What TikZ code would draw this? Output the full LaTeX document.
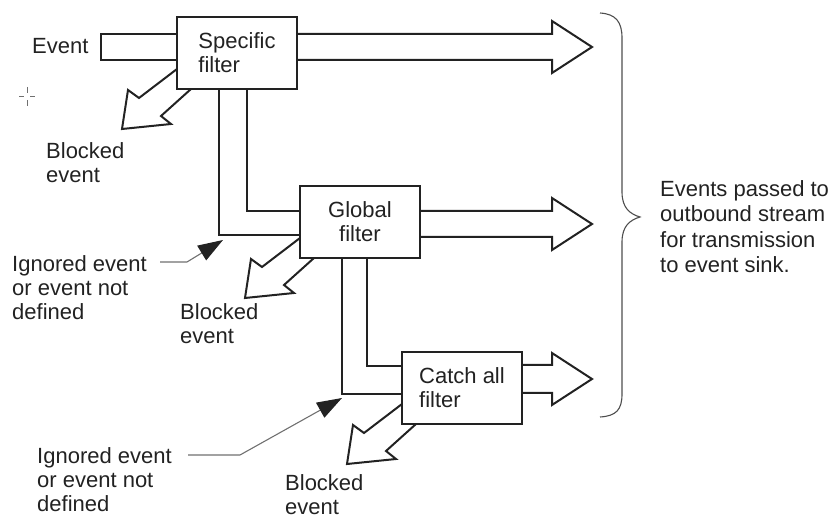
\documentclass[tikz,border=0pt]{standalone}
\usepackage{fontspec}
\setmainfont{Liberation Sans}
\usepackage{tikz}
\usetikzlibrary{calc,arrows.meta}
\definecolor{ink}{HTML}{222222}
\definecolor{leadc}{HTML}{707070}
\tikzset{
  txt/.style={font=\fontsize{22}{24}\selectfont,text=ink,inner sep=0pt,align=left},
  fbox/.style={txt,draw=ink,line width=2.6pt,fill=white,minimum width=120pt,minimum height=72pt,outer sep=0pt,align=center},
  fat/.style={draw=ink,line width=2pt,line join=miter},
  band/.style={draw=ink,line width=2pt},
  lead/.style={leadc,line width=1.1pt,-{Triangle[length=25pt,width=17pt,color=ink]}}
}

\begin{document}
\begin{tikzpicture}[x=1pt,y=-1pt]
\useasboundingbox (0,0) rectangle (833,518);
% the three filters
\node[fbox,align=left] (spec) at (237,53) {Specific\\filter};
\node[fbox] (glob) at (360,222) {Global\\filter};
\node[fbox,align=left] (catch) at (462,388) {Catch all\\filter};
% incoming event
\node[txt,anchor=base west] (ev) at (32,54) {Event};
\draw[band] (spec.west |- 0,34) -| (101,60) -- (spec.west |- 0,60);
% passed on to the next filter
\draw[band] ($(spec.south west)+(42,0)$) |- ($(glob.south west)+(0,-23)$);
\draw[band] ($(spec.south west)+(70,0)$) |- ($(glob.north west)+(0,25)$);
\draw[band] ($(glob.south west)+(42,0)$) |- ($(catch.south west)+(0,-30)$);
\draw[band] ($(glob.south west)+(67,0)$) |- ($(catch.north west)+(0,14)$);
% outbound arrows
\foreach \f/\t/\u in {spec/34/60, glob/211/237, catch/365/393}
  \draw[fat] (\f.east |- 0,\t) -- (552,\t) -- (552,{(\t+\u)/2-26}) -- (592,{(\t+\u)/2})
    -- (552,{(\t+\u)/2+26}) -- (552,\u) -- (\f.east |- 0,\u);
% blocked arrows
\foreach \f in {spec,glob,catch}
  \draw[fat,shift={(\f.south west)}] (0,-20) -- (-38,9) -- (-49,1) -- (-55,40) -- (-6,35) -- (-16,27) -- (14,0);
\node[txt,anchor=north west] (blk1) at (46,142) {Blocked\\event};
\node[txt,anchor=north west] (blk2) at (180,303) {Blocked\\event};
\node[txt,anchor=north west] (blk3) at (285,474) {Blocked\\event};
% ignored events
\node[txt,anchor=north west] (ign1) at (12,255) {Ignored event\\or event not\\defined};
\node[txt,anchor=north west] (ign2) at (37,447) {Ignored event\\or event not\\defined};
\coordinate (from1) at (160,262);
\coordinate (hit1) at (223,240);
\coordinate (from2) at (188,455);
\coordinate (hit2) at (342,398);
\draw[lead] (from1) -- ++(27,0) -- (hit1);
\draw[lead] (from2) -- ++(52,0) -- (hit2);
% brace and note
\draw[ink!80,line width=1.1pt] (600,13) .. controls (616,14) and (622,22) .. (622,38) -- (622,192)
  .. controls (622,208) and (630,214) .. (640,217) .. controls (630,220) and (622,226) .. (622,242)
  -- (622,394) .. controls (622,410) and (616,416) .. (600,417);
\node[txt,anchor=north west,font=\fontsize{22}{25.5}\selectfont] (note) at (660,180)
  {Events passed to\\outbound stream\\for transmission\\to event sink.};
% cursor mark
\draw[leadc,line width=1pt] (27,87) -- (27,93) (27,100) -- (27,106) (19,97) -- (24,97) (30,97) -- (35,97);
\end{tikzpicture}
\end{document}
